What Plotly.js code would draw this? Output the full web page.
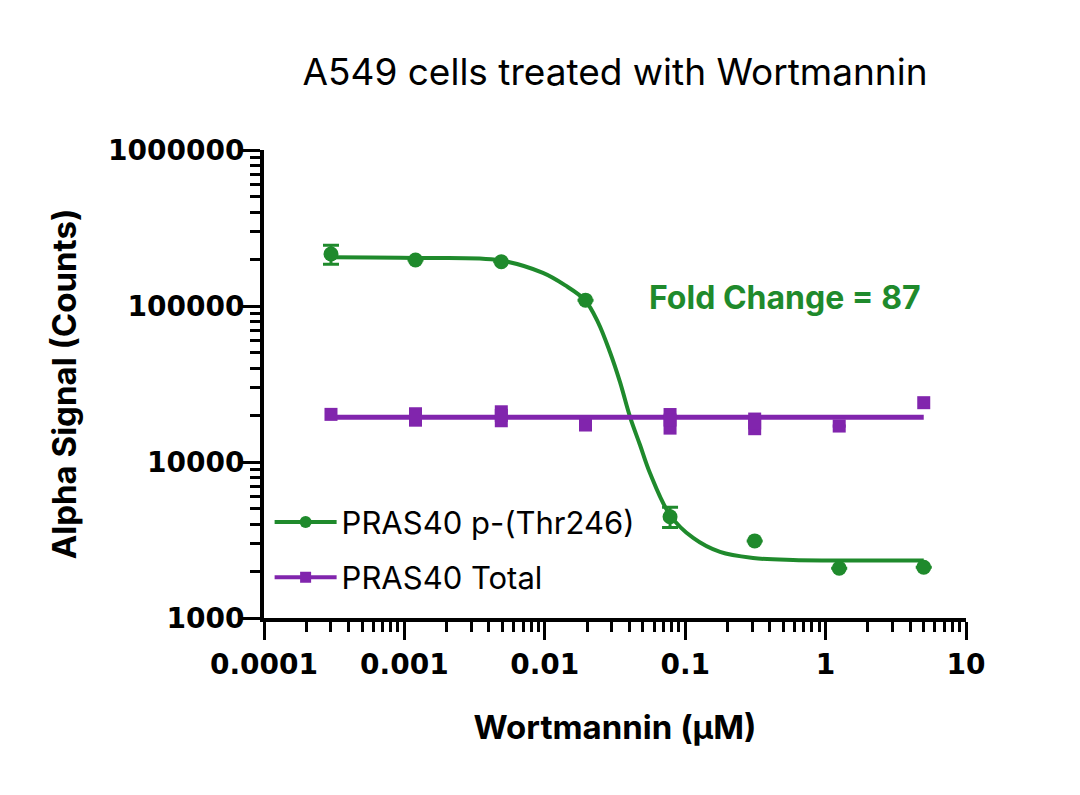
<!DOCTYPE html>
<html>
<head>
<meta charset="utf-8">
<script src="https://cdn.plot.ly/plotly-3.0.1.min.js"></script>
<style>html,body{margin:0;padding:0;background:#fff;}#chart{width:1080px;height:795px;}</style>
</head>
<body>
<div id="chart"></div>
<script>
// Concentrations (µM), 4-fold dilution series
const conc = [0.0003, 0.0012, 0.0049, 0.0195, 0.078, 0.3125, 1.25, 5];

// PRAS40 p-(Thr246) means and errors
const phosMean = [215500, 197000, 192000, 109000, 4460, 3120, 2085, 2113];
const phosErr  = [30000, 0, 0, 0, 660, 0, 0, 0];

// PRAS40 Total means and errors
const totalMean = [20200, 19640, 19900, 17260, 18580, 17800, 17000, 24000];
const totalErr  = [0, 2800, 3200, 600, 3600, 2950, 400, 0];

// Fitted curve for PRAS40 p-(Thr246)
const fitX = [0.00031, 0.00121, 0.0048, 0.0097, 0.0139, 0.0193, 0.0239, 0.0291, 0.0343, 0.0405, 0.0476, 0.0561, 0.078, 0.114, 0.177, 0.304, 0.586, 5];
const fitY = [205000, 203000, 196000, 163000, 136000, 109000, 78900, 50700, 32600, 19400, 12900, 8500, 4570, 3260, 2650, 2425, 2355, 2340];

// Fitted flat line for PRAS40 Total
const totalFitX = [0.0003, 5];
const totalFitY = [19370, 19370];

const seriesNames = ['PRAS40 p-(Thr246)', 'PRAS40 Total'];
const foldLabel = 'Fold Change = 87';

const xTickVals = [0.0001, 0.001, 0.01, 0.1, 1, 10];
const xTickText = ['0.0001', '0.001', '0.01', '0.1', '1', '10'];
const yTickVals = [1000, 10000, 100000, 1000000];
const yTickText = ['1000', '10000', '100000', '1000000'];

const GREEN = '#1f8a2c';
const PURPLE = '#8125ad';

const traces = [
  {x: fitX, y: fitY, mode: 'lines', line: {color: GREEN, width: 4, shape: 'spline', smoothing: 1}, showlegend: false, hoverinfo: 'skip'},
  {x: totalFitX, y: totalFitY, mode: 'lines', line: {color: PURPLE, width: 5}, showlegend: false, hoverinfo: 'skip'},
  {x: conc, y: phosMean, mode: 'markers', marker: {color: GREEN, size: 15, symbol: 'circle'},
   error_y: {type: 'data', array: phosErr, visible: true, color: GREEN, thickness: 3, width: 8}, showlegend: false},
  {x: conc, y: totalMean, mode: 'markers', marker: {color: PURPLE, size: 13, symbol: 'square'},
   error_y: {type: 'data', array: totalErr, visible: true, color: PURPLE, thickness: 13, width: 0}, showlegend: false},
  {x: [null], y: [null], name: seriesNames[0], mode: 'lines+markers', legendgroup: 'a',
   line: {color: GREEN, width: 4}, marker: {color: GREEN, size: 12, symbol: 'circle'}},
  {x: [null], y: [null], name: seriesNames[1], mode: 'lines+markers', legendgroup: 'b',
   line: {color: PURPLE, width: 4}, marker: {color: PURPLE, size: 11, symbol: 'square'}}
];

const tickFont = {family: 'DejaVu Sans, sans-serif', size: 28, color: '#000', weight: 'bold'};
const titleFontBold = {family: 'Inter, Lato, sans-serif', size: 33, color: '#000', weight: 'bold'};

const layout = {
  width: 1080, height: 795,
  paper_bgcolor: '#fff', plot_bgcolor: '#fff',
  margin: {l: 264, r: 114, t: 150, b: 177},
  title: {text: 'A549 cells treated with Wortmannin', font: {family: 'Inter, Lato, sans-serif', size: 37, color: '#000'},
          x: 0.5, xref: 'paper', y: 0.909, yref: 'container', yanchor: 'middle'},
  xaxis: {
    type: 'log', range: [-4, 1], showgrid: false, zeroline: false,
    showline: true, linecolor: '#000', linewidth: 4,
    ticks: 'outside', ticklen: 18, tickwidth: 3, tickcolor: '#000',
    tickmode: 'array', tickvals: xTickVals, ticktext: xTickText, tickfont: tickFont,
    minor: {ticks: 'outside', ticklen: 10, tickwidth: 3, tickcolor: '#000', dtick: 'D1', showgrid: false},
    title: {text: 'Wortmannin (μM)', font: titleFontBold, standoff: 37}
  },
  yaxis: {
    type: 'log', range: [3, 6], showgrid: false, zeroline: false,
    showline: true, linecolor: '#000', linewidth: 4,
    ticks: 'outside', ticklen: 18, tickwidth: 3, tickcolor: '#000', ticklabelstandoff: -8,
    tickmode: 'array', tickvals: yTickVals, ticktext: yTickText, tickfont: tickFont,
    minor: {ticks: 'outside', ticklen: 10, tickwidth: 3, tickcolor: '#000', dtick: 'D1', showgrid: false},
    title: {text: 'Alpha Signal (Counts)', font: titleFontBold, standoff: 22}
  },
  legend: {x: 0.008, y: 0.262, xanchor: 'left', yanchor: 'top', bgcolor: 'rgba(0,0,0,0)',
           font: {family: 'Inter, Lato, sans-serif', size: 31, color: '#000'},
           traceorder: 'grouped', tracegroupgap: 12, itemwidth: 62},
  annotations: [{text: foldLabel, xref: 'paper', yref: 'paper', x: 0.742, y: 0.684, xanchor: 'center', yanchor: 'middle', showarrow: false,
                 font: {family: 'Inter, Lato, sans-serif', size: 32, color: GREEN, weight: 'bold'}}],
  showlegend: true
};

Plotly.newPlot('chart', traces, layout, {displayModeBar: false, staticPlot: true});
</script>
</body>
</html>
